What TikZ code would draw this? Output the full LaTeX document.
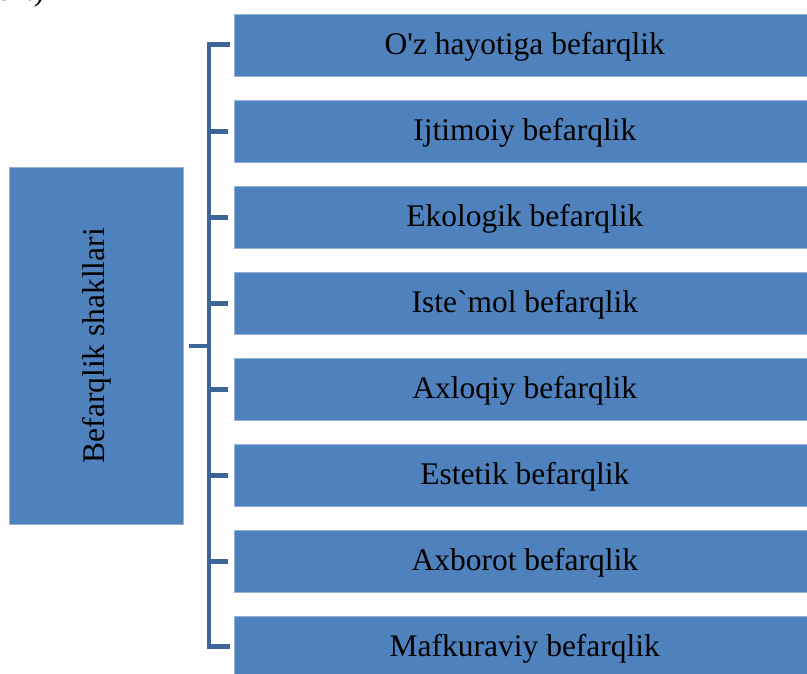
\documentclass[tikz,border=0pt]{standalone}
\usepackage{fontspec}
\setmainfont{Liberation Serif}[Ligatures=TeXOff]
\definecolor{boxblue}{HTML}{4F81BD}
\definecolor{linkblue}{HTML}{3D6496}
\begin{document}
\begin{tikzpicture}[x=1pt,y=-1pt,
  itembox/.style={fill=boxblue, draw=boxblue!60!white, line width=0.6pt, minimum width=581pt, minimum height=62pt, anchor=north west, inner sep=0pt, text depth=7pt, text height=26pt, font=\fontsize{31.5}{36}\selectfont},
  link/.style={draw=linkblue, line width=4.5pt}]
\useasboundingbox (0,0) rectangle (807,673);
\begin{scope}
\clip (0,0) rectangle (807,673);
\node[anchor=base west, inner sep=0pt, font=\fontsize{31.5}{36}\selectfont] (frag) at (-4,0) {en.)};
\node[itembox] (b1) at (234,14) {O'z hayotiga befarqlik};
\node[itembox] (b2) at (234,100) {Ijtimoiy befarqlik};
\node[itembox] (b3) at (234,186) {Ekologik befarqlik};
\node[itembox] (b4) at (234,272) {Iste`mol befarqlik};
\node[itembox] (b5) at (234,358) {Axloqiy befarqlik};
\node[itembox] (b6) at (234,444) {Estetik befarqlik};
\node[itembox] (b7) at (234,530) {Axborot befarqlik};
\node[itembox] (b8) at (234,616) {Mafkuraviy befarqlik};
\end{scope}
\node[fill=boxblue, draw=boxblue!60!white, line width=0.6pt, minimum width=174pt, minimum height=357pt, anchor=north west, inner sep=0pt] (main) at (9,167) {};
\node[rotate=90, font=\fontsize{31.5}{36}\selectfont] (mainlabel) at (main.center) {Befarqlik shakllari};
\coordinate (top) at (209,44.5);
\coordinate (bot) at (209,646.5);
\draw[link, line cap=rect] (top -| b1.west) ++(-6,0) -- (top) -- (bot) -- ++(19,0);
\foreach \i in {2,...,7} {
  \draw[link] (209,0 |- b\i.west) -- ([xshift=-6pt]b\i.west);
}
\draw[link] (main.east) ++(5,0) -- (209,0 |- main.east);
\end{tikzpicture}
\end{document}
